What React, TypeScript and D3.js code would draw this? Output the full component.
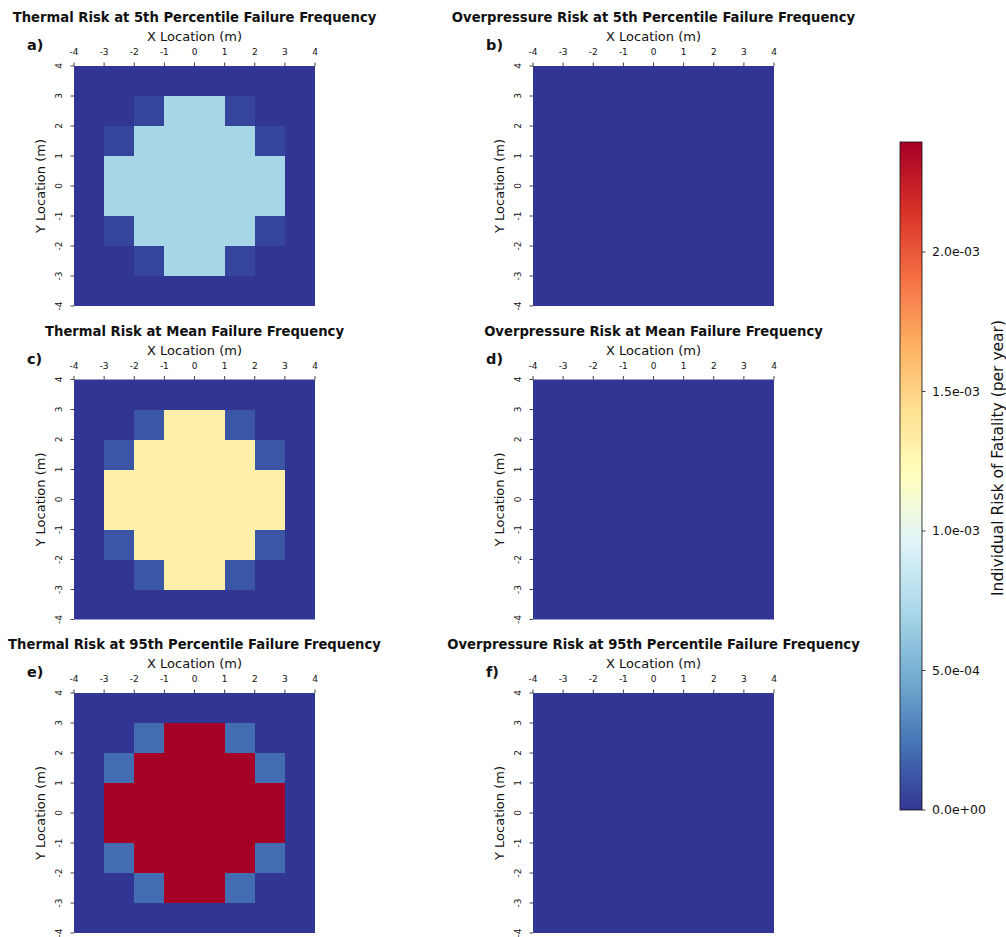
import React from "react";
import * as d3 from "d3";

// grid cell levels (rows top -> bottom, y = 4..-4): 0 = none, 1 = edge, 2 = core
const cellLevels = [
  "00000000",
  "00122100",
  "01222210",
  "02222220",
  "02222220",
  "01222210",
  "00122100",
  "00000000",
];

// risk per level [none, edge, core]
const thermal5th = [0, 5.3e-5, 7.0e-4];
const thermalMean = [0, 1.2e-4, 1.31e-3];
const thermal95th = [0, 2.1e-4, 2.394e-3];
const overpressure = [0, 0, 0];

const xTicks = [-4, -3, -2, -1, 0, 1, 2, 3, 4];
const yTicks = [4, 3, 2, 1, 0, -1, -2, -3, -4];
const cbarTicks = [0, 5e-4, 1e-3, 1.5e-3, 2e-3];

const panels = [
  { title: "Thermal Risk at 5th Percentile Failure Frequency", tag: "a)", levels: thermal5th, col: 0, row: 0 },
  { title: "Overpressure Risk at 5th Percentile Failure Frequency", tag: "b)", levels: overpressure, col: 1, row: 0 },
  { title: "Thermal Risk at Mean Failure Frequency", tag: "c)", levels: thermalMean, col: 0, row: 1 },
  { title: "Overpressure Risk at Mean Failure Frequency", tag: "d)", levels: overpressure, col: 1, row: 1 },
  { title: "Thermal Risk at 95th Percentile Failure Frequency", tag: "e)", levels: thermal95th, col: 0, row: 2 },
  { title: "Overpressure Risk at 95th Percentile Failure Frequency", tag: "f)", levels: overpressure, col: 1, row: 2 },
];

const RDYLBU_R = [
  "#313695", "#4575b4", "#74add1", "#abd9e9", "#e0f3f8", "#ffffbf",
  "#fee090", "#fdae61", "#f46d43", "#d73027", "#a50026",
];

const VMAX = 2.394e-3;
const PLOT_W = 241;
const PLOT_H = 240;
const COL_X = [74, 533];
const ROW_Y = [66, 379.5, 693];
const FONT = "DejaVu Sans, sans-serif";
const INK = "#111";

const color = d3
  .scaleLinear<string>()
  .domain(RDYLBU_R.map((_, i) => (i / (RDYLBU_R.length - 1)) * VMAX))
  .range(RDYLBU_R)
  .interpolate(d3.interpolateRgb)
  .clamp(true);

const fmtExp = (v: number) => {
  const [m, e] = v.toExponential(1).split("e");
  const sign = e[0] === "-" ? "-" : "+";
  const digits = e.replace(/[+-]/, "").padStart(2, "0");
  return `${m}e${sign}${digits}`;
};

const Heatmap = ({ p }) => {
  const x0 = COL_X[p.col];
  const y0 = ROW_Y[p.row];
  const x = d3.scaleLinear().domain([-4, 4]).range([0, PLOT_W]);
  const y = d3.scaleLinear().domain([4, -4]).range([0, PLOT_H]);
  const cells = [];
  cellLevels.forEach((rowStr, r) => {
    rowStr.split("").forEach((ch, c) => {
      cells.push({ xv: -4 + c, yv: 4 - r, v: p.levels[+ch] });
    });
  });
  return (
    <g transform={`translate(${x0},${y0})`}>
      <text x={PLOT_W / 2} y={-44} textAnchor="middle" fontFamily={FONT} fontWeight="bold" fontSize={13.2} fill={INK}>
        {p.title}
      </text>
      <text x={-47} y={-16} fontFamily={FONT} fontWeight="bold" fontSize={14.5} fill={INK}>
        {p.tag}
      </text>
      <text x={PLOT_W / 2} y={-25} textAnchor="middle" fontFamily={FONT} fontSize={13} fill={INK}>
        X Location (m)
      </text>
      <rect width={PLOT_W} height={PLOT_H} fill={color(p.levels[0])} />
      <g shapeRendering="crispEdges">
        {cells
          .filter((d) => d.v !== p.levels[0])
          .map((d, i) => (
            <rect
              key={i}
              x={x(d.xv)}
              y={y(d.yv)}
              width={x(d.xv + 1) - x(d.xv)}
              height={y(d.yv - 1) - y(d.yv)}
              fill={color(d.v)}
            />
          ))}
      </g>
      {xTicks.map((t) => (
        <g key={"x" + t}>
          <line x1={x(t)} x2={x(t)} y1={-3.5} y2={0} stroke={INK} strokeWidth={0.8} />
          <text x={x(t)} y={-11} textAnchor="middle" fontFamily={FONT} fontSize={9} fill={INK}>
            {t}
          </text>
        </g>
      ))}
      {yTicks.map((t) => (
        <g key={"y" + t}>
          <line x1={-3.5} x2={0} y1={y(t)} y2={y(t)} stroke={INK} strokeWidth={0.8} />
          <text
            transform={`translate(${-12},${y(t)}) rotate(-90)`}
            textAnchor="middle"
            fontFamily={FONT}
            fontSize={9}
            fill={INK}
          >
            {t}
          </text>
        </g>
      ))}
      <text
        transform={`translate(${-29},${PLOT_H / 2}) rotate(-90)`}
        textAnchor="middle"
        fontFamily={FONT}
        fontSize={13}
        fill={INK}
      >
        Y Location (m)
      </text>
    </g>
  );
};

const Colorbar = () => {
  const cx = 900;
  const top = 142;
  const bottom = 810;
  const w = 22;
  const s = d3.scaleLinear().domain([0, VMAX]).range([bottom, top]);
  const stops = d3.range(0, 1.0001, 0.02);
  return (
    <g>
      <defs>
        <linearGradient id="cbar" x1="0" y1="1" x2="0" y2="0">
          {stops.map((t) => (
            <stop key={t} offset={`${t * 100}%`} stopColor={color(t * VMAX)} />
          ))}
        </linearGradient>
      </defs>
      <rect x={cx} y={top} width={w} height={bottom - top} fill="url(#cbar)" stroke={INK} strokeWidth={0.8} />
      {cbarTicks.map((t) => (
        <g key={t}>
          <line x1={cx + w} x2={cx + w + 3.5} y1={s(t)} y2={s(t)} stroke={INK} strokeWidth={0.8} />
          <text x={cx + w + 10} y={s(t)} dy="0.35em" fontFamily={FONT} fontSize={12.5} fill={INK}>
            {fmtExp(t)}
          </text>
        </g>
      ))}
      <text
        transform={`translate(${1003},${458}) rotate(-90)`}
        textAnchor="middle"
        fontFamily={FONT}
        fontSize={15.5}
        fill={INK}
      >
        Individual Risk of Fatality (per year)
      </text>
    </g>
  );
};

export default function App() {
  return (
    <svg
      width={1006}
      height={937}
      style={{ position: "absolute", left: 0, top: 0, background: "#fff" }}
    >
      <rect width={1006} height={937} fill="#fff" />
      {panels.map((p) => (
        <Heatmap key={p.tag} p={p} />
      ))}
      <Colorbar />
    </svg>
  );
}
